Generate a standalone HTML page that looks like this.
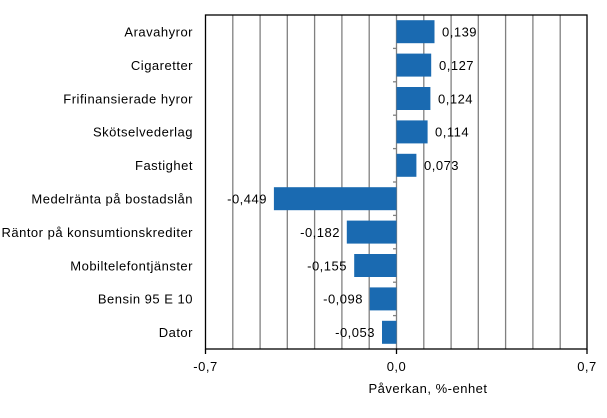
<!DOCTYPE html>
<html><head><meta charset="utf-8"><style>body{margin:0;background:#fff}svg{display:block}text{font-family:"Liberation Sans",Arial,sans-serif;font-size:13px;letter-spacing:0.5px;fill:#000}</style></head><body>
<svg width="607" height="418" viewBox="0 0 607 418" xmlns="http://www.w3.org/2000/svg">
<g stroke="#808080" stroke-width="1.3">
<line x1="232.8" y1="15" x2="232.8" y2="349"/><line x1="260.1" y1="15" x2="260.1" y2="349"/><line x1="287.3" y1="15" x2="287.3" y2="349"/><line x1="314.6" y1="15" x2="314.6" y2="349"/><line x1="341.9" y1="15" x2="341.9" y2="349"/><line x1="369.2" y1="15" x2="369.2" y2="349"/><line x1="396.5" y1="15" x2="396.5" y2="349"/><line x1="423.8" y1="15" x2="423.8" y2="349"/><line x1="451.1" y1="15" x2="451.1" y2="349"/><line x1="478.3" y1="15" x2="478.3" y2="349"/><line x1="505.6" y1="15" x2="505.6" y2="349"/><line x1="532.9" y1="15" x2="532.9" y2="349"/><line x1="560.2" y1="15" x2="560.2" y2="349"/>
<line x1="393" y1="48.4" x2="396.5" y2="48.4"/><line x1="393" y1="81.8" x2="396.5" y2="81.8"/><line x1="393" y1="115.2" x2="396.5" y2="115.2"/><line x1="393" y1="148.6" x2="396.5" y2="148.6"/><line x1="393" y1="182" x2="396.5" y2="182"/><line x1="393" y1="215.4" x2="396.5" y2="215.4"/><line x1="393" y1="248.8" x2="396.5" y2="248.8"/><line x1="393" y1="282.2" x2="396.5" y2="282.2"/><line x1="393" y1="315.6" x2="396.5" y2="315.6"/>
</g>
<g fill="#1a6ab1">
<rect x="396.5" y="20.2" width="38" height="23"/>
<rect x="396.5" y="53.6" width="34.7" height="23"/>
<rect x="396.5" y="87" width="33.9" height="23"/>
<rect x="396.5" y="120.4" width="31.1" height="23"/>
<rect x="396.5" y="153.8" width="19.9" height="23"/>
<rect x="273.9" y="187.2" width="122.6" height="23"/>
<rect x="346.8" y="220.6" width="49.7" height="23"/>
<rect x="354.2" y="254" width="42.3" height="23"/>
<rect x="369.7" y="287.4" width="26.8" height="23"/>
<rect x="382" y="320.8" width="14.5" height="23"/>
</g>
<rect x="205.5" y="15" width="381.5" height="334" fill="none" stroke="#000" stroke-width="1.3"/>
<g stroke="#000" stroke-width="1.3"><line x1="205.5" y1="349" x2="205.5" y2="354"/><line x1="396.5" y1="349" x2="396.5" y2="354"/><line x1="587" y1="349" x2="587" y2="354"/></g>
<g text-anchor="end">
<text x="193" y="36.5">Aravahyror</text><text x="193" y="69.9">Cigaretter</text><text x="193" y="103.3">Frifinansierade hyror</text><text x="193" y="136.7">Skötselvederlag</text><text x="193" y="170.1">Fastighet</text><text x="193" y="203.5">Medelränta på bostadslån</text><text x="193" y="236.9">Räntor på konsumtionskrediter</text><text x="193" y="270.3">Mobiltelefontjänster</text><text x="193" y="303.7">Bensin 95 E 10</text><text x="193" y="337.1">Dator</text>
<text x="267" y="203.5">-0,449</text><text x="340" y="236.9">-0,182</text><text x="347" y="270.3">-0,155</text><text x="363" y="303.7">-0,098</text><text x="375" y="337.1">-0,053</text>
</g>
<text x="442" y="36.5">0,139</text><text x="439" y="69.9">0,127</text><text x="438" y="103.3">0,124</text><text x="435" y="136.7">0,114</text><text x="424" y="170.1">0,073</text>
<g text-anchor="middle"><text x="205.5" y="371">-0,7</text><text x="396.5" y="371">0,0</text><text x="587" y="371">0,7</text><text x="428" y="393">Påverkan, %-enhet</text></g>
</svg>
</body></html>
